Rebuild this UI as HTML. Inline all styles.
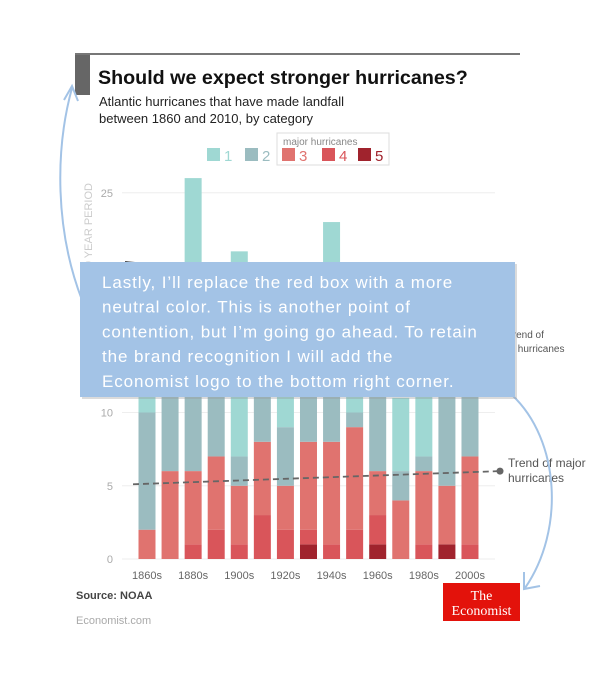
<!DOCTYPE html>
<html><head><meta charset="utf-8"><style>
body{margin:0;background:#fff;font-family:"Liberation Sans",sans-serif;}
#wrap{position:relative;width:595px;height:680px;overflow:hidden;}
svg{position:absolute;left:0;top:0;}
</style></head><body>
<div id="wrap">
<svg id="chart" width="595" height="680"></svg>
</div>
<script>
const categories=["1860s","1870s","1880s","1890s","1900s","1910s","1920s","1930s","1940s","1950s","1960s","1970s","1980s","1990s","2000s"];
const cat5=[0,0,0,0,0,0,0,1,0,0,1,0,0,1,0];
const cat4=[0,0,1,2,1,3,2,1,1,2,2,0,1,0,1];
const cat3=[2,6,5,5,4,5,3,6,7,7,3,4,5,4,6];
const cat2=[8,6,6,5,2,4,4,4,4,1,6,2,1,7,5];
const cat1=[3,3,14,4,14,3,4,3,11,3,2,5,5,2,3];
const yTicks=[0,5,10,25];
const xTickLabels=["1860s","1880s","1900s","1920s","1940s","1960s","1980s","2000s"];
const majorTrend=[5.1,6.0];

const NS="http://www.w3.org/2000/svg";
const svg=document.getElementById('chart');
function el(tag,attrs,parent,text){const e=document.createElementNS(NS,tag);for(const k in attrs)e.setAttribute(k,attrs[k]);if(text!==undefined)e.textContent=text;(parent||svg).appendChild(e);return e;}
const y0=559,ppu=14.65;
const yScale=v=>y0-v*ppu;
const xScale=i=>147+i*23.07;
const bw=17;

let e;
e=el('line',{x1:75,y1:54,x2:520,y2:54,stroke:'#777','stroke-width':2});

e=el('rect',{x:75,y:55,width:15,height:40,fill:'#666'});

e=el('text',{x:98,y:84,'font-size':19.7,'font-weight':'bold',fill:'#111'},null,'Should we expect stronger hurricanes?');

e=el('text',{x:99,y:106,'font-size':13,fill:'#222'},null,'Atlantic hurricanes that have made landfall');

e=el('text',{x:99,y:123,'font-size':13,fill:'#222'},null,'between 1860 and 2010, by category');


const colors=['#9fd8d3','#9bbcc0','#e0736f','#d9555a','#a0232d'];
e=el('rect',{x:277,y:133,width:112,height:32,fill:'none',stroke:'#ddd'});

e=el('text',{x:283,y:145,'font-size':10,fill:'#888'},null,'major hurricanes');

const legX=[207,245,282,322,358];
for(let k=0;k<5;k++){
 const g=el('g',{});
 
 el('rect',{x:legX[k],y:148,width:13,height:13,fill:colors[k]},g);
 el('text',{x:legX[k]+17,y:161,'font-size':15,fill:colors[k]},g,String(k+1));
}

for(const t of yTicks){
 e=el('line',{x1:122,y1:yScale(t),x2:495,y2:yScale(t),stroke:'#eee'});
 
 e=el('text',{x:113,y:yScale(t)+4,'font-size':11,fill:'#aaa','text-anchor':'end'},null,String(t));
 
}
e=el('text',{x:92,y:183,'font-size':11,fill:'#ccc','text-anchor':'end',transform:'rotate(-90 92 183)'},null,'HURRICANES PER 10 YEAR PERIOD');


const series=[cat5,cat4,cat3,cat2,cat1];
const scol=[colors[4],colors[3],colors[2],colors[1],colors[0]];
const snames=['cat5','cat4','cat3','cat2','cat1'];
categories.forEach((c,i)=>{
 let base=0;
 const g=el('g',{});
 
 series.forEach((s,k)=>{
  const v=s[i];
  if(v>0){
   const r=el('rect',{x:xScale(i)-bw/2,y:yScale(base+v),width:bw,height:v*ppu,fill:scol[k]},g);
   
   
  }
  base+=v;
 });
});
xTickLabels.forEach(l=>{
 const i=categories.indexOf(l);
 const t=el('text',{x:xScale(i),y:579,'font-size':11,fill:'#666','text-anchor':'middle'},null,l);
 
 
});

e=el('line',{x1:133,y1:yScale(majorTrend[0]),x2:500,y2:yScale(majorTrend[1]),stroke:'#666','stroke-width':1.8,'stroke-dasharray':'6 4'});

e=el('circle',{cx:500,cy:yScale(majorTrend[1]),r:3.5,fill:'#666'});

e=el('text',{x:508,y:467,'font-size':12,fill:'#555'},null,'Trend of major');

e=el('text',{x:508,y:482,'font-size':12,fill:'#555'},null,'hurricanes');

e=el('text',{x:507,y:338,'font-size':10,fill:'#555'},null,'Trend of');

e=el('text',{x:505,y:352,'font-size':10,fill:'#555'},null,'all hurricanes');

e=el('line',{x1:125,y1:262,x2:135,y2:263,stroke:'#444','stroke-width':2});


e=el('text',{x:76,y:599,'font-size':11,'font-weight':'bold',fill:'#444'},null,'Source: NOAA');

e=el('text',{x:76,y:624,'font-size':11,fill:'#aaa'},null,'Economist.com');

const lg=el('g',{});

el('rect',{x:443,y:583,width:77,height:38,fill:'#e3120b'},lg);
el('text',{x:481.5,y:600,'font-size':14,fill:'#fff','text-anchor':'middle','font-family':'Liberation Serif, serif'},lg,'The');
el('text',{x:481.5,y:615,'font-size':14,fill:'#fff','text-anchor':'middle','font-family':'Liberation Serif, serif'},lg,'Economist');

e=el('path',{d:'M82 300 C 55 230, 55 150, 72 88',fill:'none',stroke:'#a3c3e6','stroke-width':2});

e=el('path',{d:'M64 100 L72 86 L78 101',fill:'none',stroke:'#a3c3e6','stroke-width':2});

e=el('path',{d:'M512 395 C 560 440, 565 530, 525 588',fill:'none',stroke:'#a3c3e6','stroke-width':2});

e=el('path',{d:'M524 572 L524 589 L540 586',fill:'none',stroke:'#a3c3e6','stroke-width':2});


const og=el('g',{});

el('rect',{x:82,y:264,width:435,height:135,fill:'#999',opacity:0.35},og);
el('rect',{x:80,y:262,width:435,height:135,fill:'#a3c3e6'},og);
const lines=["Lastly, I\u2019ll replace the red box with a more","neutral color. This is another point of","contention, but I\u2019m going go ahead. To retain","the brand recognition I will add the","Economist logo to the bottom right corner."];
lines.forEach((l,i)=>{
 const t=el('text',{x:102,y:288+i*24.7,'font-size':17,fill:'#fff','letter-spacing':'0.9'},og,l);
 
 
});
</script>
</body></html>
